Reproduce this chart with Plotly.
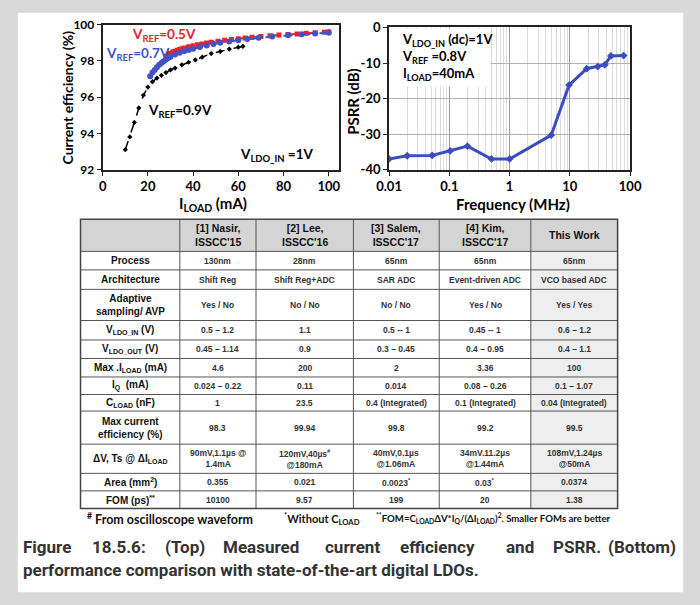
import plotly.graph_objects as go

# ---------------- data ----------------
iload_09 = [10, 12, 14, 16, 18, 20, 22, 24, 26, 28, 30, 32, 35, 38, 41, 44, 48, 52, 56, 60, 62]
eff_09 = [93.1, 93.8, 94.6, 95.4, 96.1, 96.55, 96.85, 97.05, 97.2, 97.35, 97.5, 97.6, 97.78, 97.92,
          98.05, 98.2, 98.4, 98.52, 98.65, 98.75, 98.8]

iload_07 = [21, 22, 23, 24, 25, 26, 27, 28, 29, 30, 32, 34, 36, 38, 40, 43, 46, 49, 52, 56, 60, 64,
            69, 75, 82, 88, 94, 100]
eff_07 = [97.15, 97.35, 97.5, 97.65, 97.78, 97.88, 97.98, 98.07, 98.15, 98.23, 98.35, 98.45, 98.53,
          98.6, 98.67, 98.76, 98.85, 98.93, 99.0, 99.07, 99.13, 99.2, 99.27, 99.34, 99.41, 99.46,
          99.51, 99.55]

iload_05 = [28, 29, 30, 31, 32, 33, 34, 35, 36, 38, 40, 42, 44, 46, 48, 51, 54, 57, 60, 63, 66, 70,
            74, 78, 82, 86, 90, 94, 98, 100]
eff_05 = [98.25, 98.35, 98.42, 98.48, 98.53, 98.58, 98.62, 98.66, 98.7, 98.77, 98.83, 98.88, 98.93,
          98.98, 99.02, 99.08, 99.13, 99.18, 99.22, 99.26, 99.3, 99.34, 99.38, 99.42, 99.45, 99.48,
          99.52, 99.55, 99.58, 99.6]

freq_mhz = [0.01, 0.02, 0.052, 0.103, 0.2, 0.5, 1.0, 4.9, 9.7, 19, 29, 38, 48, 78]
psrr_db = [-37.0, -36.1, -36.0, -34.75, -33.4, -37.0, -37.0, -30.3, -16.2, -11.6, -11.0, -10.5,
           -8.0, -7.9]

eff_ticks = [92, 94, 96, 98, 100]
iload_ticks = [0, 20, 40, 60, 80, 100]
freq_ticks = [0.01, 0.1, 1, 10, 100]
freq_ticktext = ["0.01", "0.1", "1", "10", "100"]
psrr_ticks = [-40, -30, -20, -10, 0]

table_header = ["", "[1] Nasir,<br>ISSCC'15", "[2] Lee,<br>ISSCC'16", "[3] Salem,<br>ISSCC'17",
                "[4] Kim,<br>ISSCC'17", "This Work"]
row_labels = ["Process", "Architecture", "Adaptive<br>sampling/ AVP", "V<sub>LDO_IN</sub> (V)",
              "V<sub>LDO_OUT</sub> (V)", "Max .I<sub>LOAD</sub> (mA)", "I<sub>Q</sub>  (mA)",
              "C<sub>LOAD</sub> (nF)", "Max current<br>efficiency (%)",
              "ΔV, Ts @ ΔI<sub>LOAD</sub>", "Area (mm<sup>2</sup>)", "FOM (ps)<sup>**</sup>"]
col_nasir = ["130nm", "Shift Reg", "Yes / No", "0.5 – 1.2", "0.45 – 1.14", "4.6", "0.024 – 0.22",
             "1", "98.3", "90mV,1.1µs @<br>1.4mA", "0.355", "10100"]
col_lee = ["28nm", "Shift Reg+ADC", "No / No", "1.1", "0.9", "200", "0.11", "23.5", "99.94",
           "120mV,40µs<sup>#</sup><br>@180mA", "0.021", "9.57"]
col_salem = ["65nm", "SAR ADC", "No / No", "0.5 -- 1", "0.3 – 0.45", "2", "0.014",
             "0.4 (Integrated)", "99.8", "40mV,0.1µs<br>@1.06mA", "0.0023<sup>*</sup>", "199"]
col_kim = ["65nm", "Event-driven ADC", "Yes / No", "0.45 -- 1", "0.4 – 0.95", "3.36",
           "0.08 – 0.26", "0.1 (Integrated)", "99.2", "34mV.11.2µs<br>@1.44mA", "0.03<sup>*</sup>",
           "20"]
col_this = ["65nm", "VCO based ADC", "Yes / Yes", "0.6 – 1.2", "0.4 – 1.1", "100", "0.1 – 1.07",
            "0.04 (Integrated)", "99.5", "108mV,1.24µs<br>@50mA", "0.0374", "1.38"]

caption_line1 = ["Figure", "18.5.6:", "(Top)", "Measured", "current", "efficiency", "and", "PSRR.",
                 "(Bottom)"]
caption_line2 = "performance comparison with state-of-the-art digital LDOs."

# ---------------- layout helpers ----------------
W, H = 700, 605


def px(x):
    return x / W


def py(y):
    return 1 - y / H


CHART_FONT = "Lato, Carlito, Calibri, sans-serif"
TABLE_FONT = "Liberation Sans, Arial, sans-serif"
CAP_FONT = "Roboto, sans-serif"

fig = go.Figure()

# ---------------- left chart ----------------
fig.add_trace(go.Scatter(x=iload_09, y=eff_09, mode="lines+markers", xaxis="x", yaxis="y",
                         line=dict(color="black", width=1.5, dash="dash"),
                         marker=dict(symbol="diamond", size=4, color="black"), showlegend=False))
fig.add_trace(go.Scatter(x=iload_05, y=eff_05, mode="lines+markers", xaxis="x", yaxis="y",
                         line=dict(color="#e8242b", width=2, dash="dash"),
                         marker=dict(symbol="square", size=5, color="#e8242b"), showlegend=False))
fig.add_trace(go.Scatter(x=iload_07, y=eff_07, mode="lines+markers", xaxis="x", yaxis="y",
                         line=dict(color="#4353c6", width=2, dash="dash"),
                         marker=dict(symbol="circle", size=6, color="#4353c6"), showlegend=False))

# ---------------- right chart ----------------
fig.add_trace(go.Scatter(x=freq_mhz, y=psrr_db, mode="lines+markers", xaxis="x2", yaxis="y2",
                         line=dict(color="#3b4cc0", width=3),
                         marker=dict(symbol="diamond", size=6, color="#3b4cc0"), showlegend=False))

minor_freq = [m * 10 ** e for e in range(-2, 2) for m in range(2, 10)]

axis_common = dict(showline=True, linecolor="#222", linewidth=2, mirror=True, zeroline=False,
                   ticks="outside", ticklen=4, tickcolor="#222")

fig.update_layout(
    width=W, height=H, margin=dict(l=0, r=0, t=0, b=0),
    paper_bgcolor="#d9d9d9", plot_bgcolor="rgba(0,0,0,0)",
    font=dict(family=CHART_FONT, color="black"),
    xaxis=dict(domain=[px(93), px(338)], range=[0, 104.5], tickvals=iload_ticks, anchor="y",
               showgrid=False, tickfont=dict(size=13, weight="bold"), **axis_common),
    yaxis=dict(domain=[py(166), py(17)], range=[92, 100], tickvals=eff_ticks, anchor="x",
               showgrid=False, tickfont=dict(size=12, weight="bold"), **axis_common),
    xaxis2=dict(domain=[px(390), px(640)], type="log", range=[-2, 2], tickvals=freq_ticks,
                ticktext=freq_ticktext, anchor="y2", showgrid=True, gridcolor="#9a9a9a",
                gridwidth=1, tickfont=dict(size=13, weight="bold"),
                minor=dict(tickvals=minor_freq, showgrid=True, gridcolor="#dcdcdc", ticks=""),
                **axis_common),
    yaxis2=dict(domain=[py(166), py(20)], range=[-40, 0], tickvals=psrr_ticks,
                ticktext=[str(v) for v in psrr_ticks], anchor="x2", showgrid=True,
                gridcolor="#b0b0b0", tickfont=dict(size=13, weight="bold"), **axis_common),
)

shapes = []
annotations = []


def note(text, x, y, size, color="black", family=CHART_FONT, xanchor="center", yanchor="middle",
         **kw):
    annotations.append(dict(text=text, xref="paper", yref="paper", x=px(x), y=py(y),
                            xanchor=xanchor, yanchor=yanchor, showarrow=False,
                            font=dict(size=size, color=color, family=family), **kw))


# white panel
shapes.append(dict(type="rect", xref="paper", yref="paper", x0=px(5), x1=px(695), y0=py(600),
                   y1=py(5), fillcolor="white", line=dict(width=0), layer="below"))

# axis titles
note("<b>Current efficiency (%)</b>", 57, 92, 14, textangle=-90)
note("<b>I<sub>LOAD</sub> (mA)</b>", 207, 201, 15)
note("<b>PSRR (dB)</b>", 353, 96, 15, textangle=-90)
note("<b>Frequency (MHz)</b>", 518, 201, 15)

# left chart labels (data coordinates)
for txt, xv, yv, col in [("<b>V<sub>REF</sub>=0.5V</b>", 12.2, 99.4, "#e8242b"),
                         ("<b>V<sub>REF</sub>=0.7V</b>", 0.6, 98.37, "#4353c6"),
                         ("<b>V<sub>REF</sub>=0.9V</b>", 19.2, 95.25, "black"),
                         ("<b>V<sub>LDO_IN</sub> =1V</b>", 59.8, 92.78, "black")]:
    annotations.append(dict(text=txt, xref="x", yref="y", x=xv, y=yv, xanchor="left",
                            yanchor="middle", showarrow=False,
                            font=dict(size=13.5, color=col, family=CHART_FONT)))

# right chart condition text on white box
note(" ", 389.5, 20.5, 10, xanchor="left", yanchor="top", width=100, height=57,
     bgcolor="white", borderpad=0)
note("<b>V<sub>LDO_IN</sub> (dc)=1V<br>V<sub>REF</sub> =0.8V<br>I<sub>LOAD</sub>=40mA</b>",
     401, 21.7, 13, xanchor="left", yanchor="top", align="left")

# ---------------- table ----------------
col_edges = [70, 173, 252, 353, 442, 537, 627]
row_heights = [33, 19, 20, 32, 20, 19, 19, 18, 17, 34, 30, 18, 18]
table_top = 217
row_edges = [table_top]
for h in row_heights:
    row_edges.append(row_edges[-1] + h)
t_bot = row_edges[-1]

columns = [row_labels, col_nasir, col_lee, col_salem, col_kim, col_this]

# fills
shapes.append(dict(type="rect", xref="paper", yref="paper", x0=px(col_edges[0]),
                   x1=px(col_edges[-1]), y0=py(row_edges[1]), y1=py(row_edges[0]),
                   fillcolor="#d4d4d4", line=dict(width=0), layer="below"))
shapes.append(dict(type="rect", xref="paper", yref="paper", x0=px(col_edges[5]),
                   x1=px(col_edges[6]), y0=py(t_bot), y1=py(row_edges[1]),
                   fillcolor="#eeeeee", line=dict(width=0), layer="below"))
# grid lines
for ye in row_edges[1:-1]:
    shapes.append(dict(type="line", xref="paper", yref="paper", x0=px(col_edges[0]),
                       x1=px(col_edges[-1]), y0=py(ye), y1=py(ye),
                       line=dict(color="#555", width=1)))
for xe in col_edges[1:-1]:
    shapes.append(dict(type="line", xref="paper", yref="paper", x0=px(xe), x1=px(xe),
                       y0=py(t_bot), y1=py(table_top), line=dict(color="#555", width=1)))
shapes.append(dict(type="rect", xref="paper", yref="paper", x0=px(col_edges[0]),
                   x1=px(col_edges[-1]), y0=py(t_bot), y1=py(table_top),
                   line=dict(color="#444", width=1.5)))

# header text
for ci, txt in enumerate(table_header):
    if not txt:
        continue
    cx = (col_edges[ci] + col_edges[ci + 1]) / 2
    cy = (row_edges[0] + row_edges[1]) / 2
    note("<b>" + txt + "</b>", cx, cy, 10.5, color="#111", family=TABLE_FONT)
# body text
for ci, col in enumerate(columns):
    cx = (col_edges[ci] + col_edges[ci + 1]) / 2
    for ri, txt in enumerate(col):
        cy = (row_edges[ri + 1] + row_edges[ri + 2]) / 2
        if ci == 0:
            note("<b>" + txt + "</b>", cx, cy, 10, color="#111", family=TABLE_FONT)
        else:
            note("<b>" + txt + "</b>", cx, cy, 8.5, color="#333", family=TABLE_FONT)

# footnote
foot_y = t_bot + 10
note("<b><sup>#</sup> From oscilloscope waveform</b>", 75, foot_y, 12.5, color="#111",
     xanchor="left")
note("<b><sup>*</sup>Without C<sub>LOAD</sub></b>", 279, foot_y, 11, color="#111",
     xanchor="left")
note("<b><sup>**</sup>FOM=C<sub>LOAD</sub>ΔV*I<sub>Q</sub>/(ΔI<sub>LOAD</sub>)<sup>2</sup>. "
     "Smaller FOMs are better</b>", 622, foot_y, 9.6, color="#111", xanchor="right")

# caption line 1 (justified: word positions)
cap_x = [8, 80, 156, 216, 321, 399, 509, 558, 690]
for i, word in enumerate(caption_line1):
    last = i == len(caption_line1) - 1
    note("<b>" + word + "</b>", cap_x[i], 554, 17, color="#333", family=CAP_FONT,
         xanchor="right" if last else "left")
note("<b>" + caption_line2 + "</b>", 8, 577, 17, color="#333", family=CAP_FONT, xanchor="left")

fig.update_layout(shapes=shapes, annotations=annotations)
fig.write_html("out.html")
